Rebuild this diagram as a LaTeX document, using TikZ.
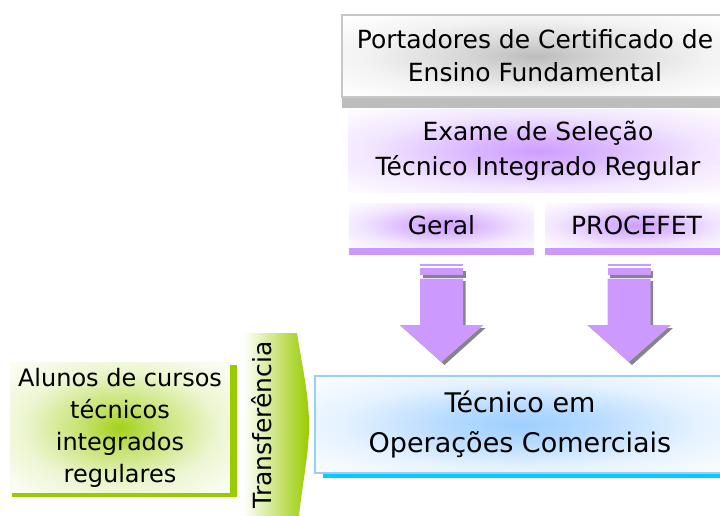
\documentclass[tikz,border=0pt]{standalone}
\usepackage{fontspec}
\setmainfont{DejaVu Sans}
\definecolor{pur}{HTML}{CC99FF}
\definecolor{grn}{HTML}{99CC00}
\definecolor{blu}{HTML}{99CCFF}
\definecolor{cyn}{HTML}{00CCFF}
\definecolor{shd}{HTML}{858585}
\definecolor{gbar}{HTML}{BDBDBD}
\definecolor{gbord}{HTML}{C8C8C8}
\pgfdeclareradialshading{purglow}{\pgfpoint{0bp}{0bp}}{color(0bp)=(pur!95!white); color(9bp)=(pur!70!white); color(22bp)=(pur!25!white); color(33bp)=(pur!6!white); color(42bp)=(white); color(50bp)=(white)}
\pgfdeclareradialshading{grayglow}{\pgfpoint{0bp}{0bp}}{color(0bp)=(black!26); color(9bp)=(black!16); color(22bp)=(black!5); color(34bp)=(white); color(50bp)=(white)}
\pgfdeclareradialshading{bluglow}{\pgfpoint{0bp}{0bp}}{color(0bp)=(blu!95!white); color(9bp)=(blu!72!white); color(22bp)=(blu!25!white); color(33bp)=(blu!6!white); color(42bp)=(white); color(50bp)=(white)}
\pgfdeclareradialshading{grnglow}{\pgfpoint{0bp}{0bp}}{color(0bp)=(grn!90!white); color(9bp)=(grn!55!white); color(22bp)=(grn!18!white); color(33bp)=(grn!5!white); color(42bp)=(white); color(50bp)=(white)}
\begin{document}
\begin{tikzpicture}[x=1pt,y=-1pt,
  txt/.style={font=\fontsize{25}{33}\selectfont, align=center, text=black, inner sep=0pt},
  bigtxt/.style={font=\fontsize{27}{40}\selectfont, align=center, text=black, inner sep=0pt},
  panel/.style={minimum width=#1, inner sep=0pt},
  blockarrow/.style={fill=pur, draw=none},
  arrowshadow/.style={fill=shd, draw=none}]
\useasboundingbox (0,0) rectangle (720,516);
\clip (0,0) rectangle (720,516);

% top box
\fill[gbar] (342,96) rectangle (728,108);
\node[txt, panel=386pt, minimum height=82pt, shading=grayglow, draw=gbord, line width=1.5pt] (top) at (535,56) {Portadores de Certificado de\\Ensino Fundamental};

% exam box
\node[txt, panel=380pt, minimum height=83pt, shading=purglow, font=\fontsize{25}{35}\selectfont] (exame) at (538,151) {Exame de Seleção\\Técnico Integrado Regular};

% geral / procefet
\node[txt, panel=185pt, minimum height=45pt, shading=purglow] (geral) at (441.5,225.5) {Geral};
\node[txt, panel=183pt, minimum height=45pt, shading=purglow] (proc) at (636.5,225.5) {PROCEFET};
\fill[pur] (geral.south west) rectangle ([yshift=-7pt]geral.south east);
\fill[pur] (proc.south west) rectangle ([yshift=-7pt]proc.south east);

% block arrows
\foreach \cx in {441.5,629} {
  \begin{scope}[shift={(\cx,0)}]
    \fill[arrowshadow] (-19,270.5) rectangle (24,278);
    \fill[arrowshadow] (-19,281) -- (24,281) -- (24,328) -- (44,328) -- (3,365) -- (-38,328) -- (-19,328) -- cycle;
    \fill[blockarrow] (-21.5,263.5) rectangle (21.5,266);
    \fill[blockarrow] (-21.5,268) rectangle (21.5,275);
    \fill[blockarrow] (-21.5,278.5) -- (21.5,278.5) -- (21.5,325) -- (42,325) -- (0,362) -- (-42,325) -- (-21.5,325) -- cycle;
  \end{scope}
}

% blue target box
\fill[cyn] (323,473) rectangle (728,478);
\node[bigtxt, panel=410pt, minimum height=97pt, shading=bluglow, draw=blu, line width=2pt] (tec) at (520,424.5) {Técnico em\\Operações Comerciais};

% students box
\node[txt, panel=220pt, minimum height=131pt, shading=grnglow, font=\fontsize{24}{32}\selectfont] (alunos) at (120,427.5) {Alunos de cursos\\técnicos\\integrados\\regulares};
\fill[grn] (230,365) rectangle (237,497);
\fill[grn] (12,493) rectangle (237,497);

% transfer arrow
\shade[left color=white, right color=grn] (243,333) -- (297,333) .. controls (302,365) and (309,395) .. (309,425) .. controls (309,455) and (302,485) .. (299,516) -- (243,516) -- cycle;
\node[txt, rotate=90] (transf) at (262,425) {Transferência};
\end{tikzpicture}
\end{document}
